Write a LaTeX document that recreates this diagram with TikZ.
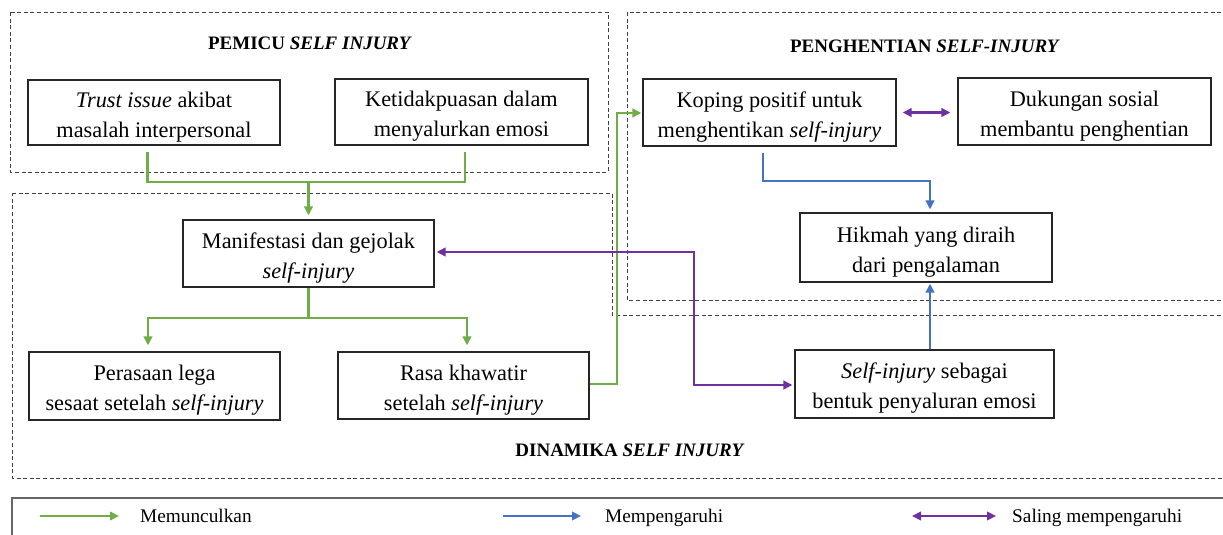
\documentclass[tikz,border=0pt]{standalone}
\usepackage{fontspec}
\setmainfont{Liberation Serif}
\usetikzlibrary{arrows.meta}
\definecolor{cgreen}{HTML}{70AD47}
\definecolor{cblue}{HTML}{4472C4}
\definecolor{cpurple}{HTML}{7030A0}
\definecolor{cdash}{HTML}{404040}
\newcommand{\twoline}[2]{\rule{0pt}{25pt}#1\\#2\rule[-6pt]{0pt}{6pt}}
\begin{document}
\begin{tikzpicture}[x=1pt,y=-1pt,
  box/.style={draw=black!85,line width=1.2pt,align=center,inner sep=0pt,
    font=\fontsize{22.3}{30}\selectfont},
  ttl/.style={font=\fontsize{19}{22}\selectfont\bfseries},
  region/.style={draw=cdash,line width=0.9pt,dash pattern=on 4pt off 2.6pt},
  tip/.style={-{Triangle[length=9pt,width=8.5pt]}},
  dtip/.style={{Triangle[length=9pt,width=8.5pt]}-{Triangle[length=9pt,width=8.5pt]}},
  gline/.style={cgreen,line width=2.3pt},
  bline/.style={cblue,line width=2.3pt},
  pline/.style={cpurple,line width=2.3pt},
  leg/.style={anchor=base west,inner sep=0pt,font=\fontsize{19.3}{22}\selectfont}]
\useasboundingbox (0,0) rectangle (1223,535);
\clip (0,0) rectangle (1223,535);
\fill[white] (0,0) rectangle (1223,535);

% regions
\draw[region] (10,12) rectangle (608,172);
\draw[region] (12,193) -- (612,193) -- (612,315) -- (1240,315) -- (1240,478) -- (12,478) -- cycle;
\draw[region] (627,12) rectangle (1240,300);
\draw[draw=black!60,line width=1.5pt] (12,498) rectangle (1240,560);

% titles
\node[ttl] (t1) at (310,43) {PEMICU \textit{SELF INJURY}};
\node[ttl] (t2) at (925,46) {PENGHENTIAN \textit{SELF-INJURY}};
\node[ttl] (t3) at (630,450) {DINAMIKA \textit{SELF INJURY}};

% boxes
\node[box,minimum width=252pt,minimum height=65pt] (trust) at (154,112.5) {\twoline{\textit{Trust issue} akibat}{masalah interpersonal}};
\node[box,minimum width=253pt,minimum height=66pt] (keti) at (461.5,112) {\twoline{Ketidakpuasan dalam}{menyalurkan emosi}};
\node[box,minimum width=253pt,minimum height=67pt] (koping) at (769.5,112.5) {\twoline{Koping positif untuk}{menghentikan \textit{self-injury}}};
\node[box,minimum width=253pt,minimum height=67pt] (duk) at (1084.5,111.5) {\twoline{Dukungan sosial}{membantu penghentian}};
\node[box,minimum width=252pt,minimum height=69pt] (hikmah) at (926,247.5) {\twoline{Hikmah yang diraih}{dari pengalaman}};
\node[box,minimum width=251pt,minimum height=67pt] (manif) at (308.5,253.5) {\twoline{Manifestasi dan gejolak}{\textit{self-injury}}};
\node[box,minimum width=251pt,minimum height=68pt] (peras) at (154.5,386) {\twoline{Perasaan lega}{sesaat setelah \textit{self-injury}}};
\node[box,minimum width=251pt,minimum height=67pt] (rasa) at (463.5,385.5) {\twoline{Rasa khawatir}{setelah \textit{self-injury}}};
\node[box,minimum width=259pt,minimum height=68pt] (selfinj) at (924.5,384) {\twoline{\textit{Self-injury} sebagai}{bentuk penyaluran emosi}};

% junction coordinates
\coordinate (j1) at (308.5,182);
\coordinate (j2) at (308.5,318);
\coordinate (g1) at (617,384);
\coordinate (p1) at (694,252);
\coordinate (b1) at (930,181);

% green connectors
\draw[gline] ([xshift=-6.5pt,yshift=-6pt]trust.south) |- (j1) -| ([xshift=3.5pt,yshift=-6pt]keti.south);
\draw[gline,tip,shorten >=4pt] (j1) -- (j1 |- manif.north);
\draw[gline] (manif.south) -- (j2);
\draw[gline,tip,shorten >=6pt] (j2) -| ([xshift=-6.5pt]peras.north);
\draw[gline,tip,shorten >=6pt] (j2) -| ([xshift=3.5pt]rasa.north);
\draw[gline,tip,shorten >=1pt] (rasa.east |- g1) -- (g1) |- ([yshift=-0.5pt]koping.west);

% purple connectors
\draw[pline,dtip,shorten <=2pt,shorten >=2pt] (manif.east |- p1) -- (p1) |- ([yshift=-1pt]selfinj.west);
\draw[pline,dtip,shorten <=6pt,shorten >=7pt] (koping.east) -- (koping.east -| duk.west);

% blue connectors
\draw[bline,tip,shorten >=3pt] ([xshift=-6.5pt,yshift=-6pt]koping.south) |- (b1) -- (b1 |- hikmah.north);
\draw[bline,tip,shorten >=1pt] ([xshift=5.5pt]selfinj.north) -- ([xshift=4pt]hikmah.south);

% legend
\coordinate (la1) at (40,516);
\coordinate (la2) at (119,516);
\coordinate (lb1) at (503,516);
\coordinate (lb2) at (581,516);
\coordinate (lc1) at (912,516);
\coordinate (lc2) at (996,516);
\draw[gline,tip] (la1) -- (la2);
\draw[bline,tip] (lb1) -- (lb2);
\draw[pline,dtip] (lc1) -- (lc2);
\node[leg] (l1) at (140,522) {Memunculkan};
\node[leg] (l2) at (605,522) {Mempengaruhi};
\node[leg] (l3) at (1012,522) {Saling mempengaruhi};
\end{tikzpicture}
\end{document}
